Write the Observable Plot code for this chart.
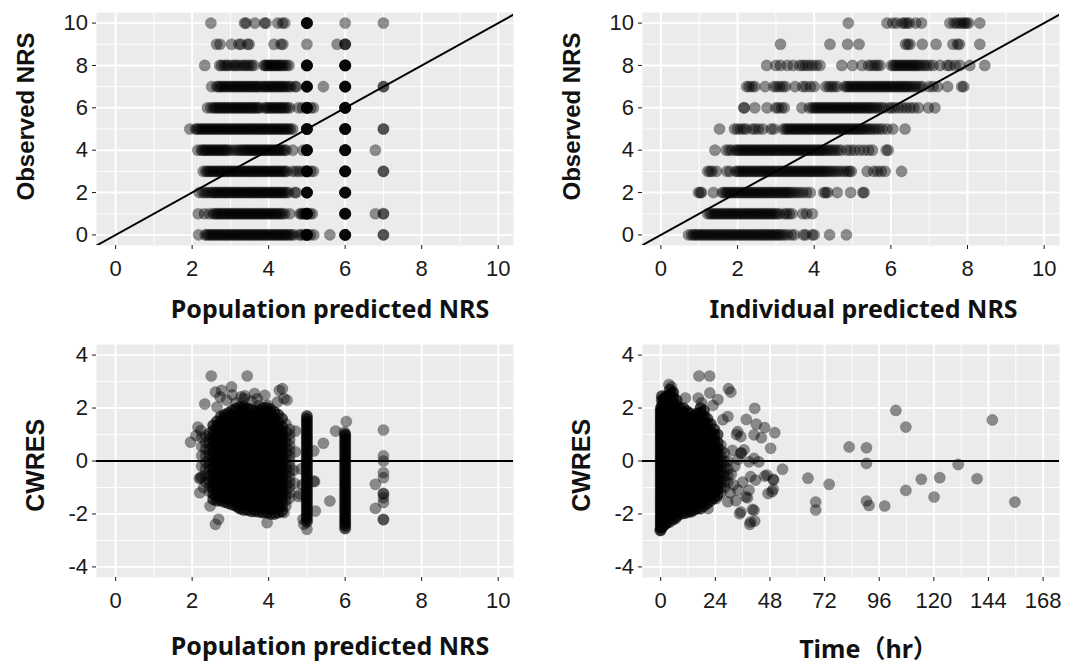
<!DOCTYPE html>
<html><head><meta charset="utf-8">
<script src="https://cdn.jsdelivr.net/npm/d3@7"></script>
<script src="https://cdn.jsdelivr.net/npm/@observablehq/plot@0.6"></script>
<style>
body{margin:0;background:#fff;}
#fig{position:relative;width:1092px;height:668px;overflow:hidden;}
.panel{position:absolute;width:546px;height:334px;}
</style></head><body><div id="fig"></div>
<script>
// ---------- DATA ----------
// Panel A: population predicted NRS, listed by observed NRS (index = observed 0..10)
const popPredByObs = [
"2.17 2.34 2.38 2.43 2.47 2.52 2.56 2.61 2.65 2.7 2.74 2.79 2.83 2.88 2.92 2.97 3.01 3.06 3.1 3.15 3.19 3.24 3.28 3.33 3.37 3.42 3.46 3.51 3.55 3.6 3.64 3.69 3.73 3.78 3.82 3.87 3.91 3.96 4 4.05 4.09 4.14 4.18 4.23 4.27 4.32 4.36 4.41 4.45 4.5 4.55 4.6 4.66 4.8 4.86 4.93 5 5 5 5 5 5 5.09 5.18 5.6 6 6 6 6 6 6 7 7",
"2.16 2.32 2.45 2.55 2.6 2.64 2.69 2.73 2.78 2.82 2.87 2.91 2.96 3 3.05 3.09 3.14 3.18 3.23 3.27 3.32 3.36 3.41 3.45 3.5 3.54 3.59 3.63 3.68 3.72 3.77 3.81 3.86 3.9 3.95 3.99 4.04 4.08 4.13 4.17 4.22 4.26 4.31 4.36 4.42 4.55 4.82 4.86 4.9 4.95 5 5 5 5 5 5 5.08 5.14 6 6 6 6 6 6 6.79 7 7",
"2.19 2.28 2.34 2.4 2.47 2.52 2.57 2.61 2.66 2.7 2.75 2.79 2.84 2.88 2.93 2.97 3.02 3.06 3.11 3.15 3.2 3.24 3.29 3.33 3.38 3.42 3.47 3.51 3.56 3.6 3.65 3.69 3.74 3.78 3.83 3.87 3.92 3.96 4.01 4.05 4.1 4.14 4.19 4.23 4.28 4.32 4.37 4.41 4.46 4.52 4.68 4.72 5 5 5 5 5 5 6 6 6 6 6 6",
"2.29 2.36 2.4 2.45 2.49 2.54 2.58 2.63 2.67 2.72 2.76 2.81 2.85 2.9 2.94 2.99 3.03 3.08 3.12 3.17 3.21 3.26 3.3 3.35 3.39 3.44 3.48 3.53 3.57 3.62 3.66 3.71 3.75 3.8 3.84 3.89 3.93 3.98 4.02 4.07 4.11 4.16 4.2 4.25 4.29 4.34 4.38 4.43 4.48 4.63 4.72 4.8 4.9 5 5 5 5 5 5 5.1 5.17 6 6 6 6 6 6 7 7",
"2.15 2.24 2.28 2.33 2.37 2.42 2.46 2.51 2.55 2.6 2.64 2.69 2.73 2.78 2.82 2.87 2.91 2.97 3.05 3.13 3.2 3.26 3.31 3.36 3.41 3.45 3.5 3.54 3.59 3.63 3.68 3.72 3.77 3.81 3.86 3.9 3.95 3.99 4.04 4.08 4.13 4.17 4.22 4.26 4.31 4.36 4.41 4.46 4.63 4.9 5 5 5 5 5 5 6 6 6 6 6 6 6.79",
"1.94 2.09 2.13 2.18 2.22 2.27 2.31 2.36 2.4 2.45 2.49 2.54 2.58 2.63 2.67 2.72 2.76 2.81 2.85 2.9 2.94 2.99 3.03 3.08 3.12 3.17 3.21 3.26 3.3 3.35 3.39 3.44 3.48 3.53 3.57 3.62 3.66 3.71 3.75 3.8 3.84 3.89 3.93 3.98 4.02 4.07 4.11 4.16 4.2 4.25 4.29 4.34 4.38 4.43 4.47 4.52 4.57 4.63 5 5 5 5 5 5 6 6 6 6 6 6 7 7",
"2.4 2.49 2.55 2.6 2.64 2.69 2.73 2.78 2.82 2.87 2.91 2.96 3.01 3.05 3.1 3.14 3.19 3.23 3.28 3.32 3.37 3.41 3.46 3.5 3.55 3.59 3.64 3.68 3.73 3.78 3.9 3.94 3.99 4.03 4.08 4.12 4.17 4.21 4.26 4.3 4.35 4.39 4.44 4.49 4.55 4.78 4.88 5 5 5 5 5 5 5.1 5.17 6 6 6 6 6 6",
"2.51 2.64 2.68 2.73 2.77 2.82 2.86 2.91 2.95 3 3.05 3.09 3.14 3.18 3.23 3.27 3.32 3.36 3.41 3.45 3.5 3.54 3.59 3.63 3.68 3.72 3.77 3.83 3.88 3.92 3.97 4.01 4.06 4.1 4.15 4.19 4.24 4.28 4.33 4.37 4.42 4.47 4.53 4.58 4.69 4.72 5 5 5 5 5 5 5.43 6 6 6 6 6 6 7 7",
"2.33 2.72 2.77 2.84 2.9 2.95 3.04 3.1 3.16 3.22 3.3 3.36 3.42 3.48 3.55 3.61 3.88 3.91 3.95 3.99 4.03 4.07 4.11 4.15 4.19 4.23 4.27 4.31 4.36 4.41 4.47 4.53 5 5 5 5 5 5 6 6 6 6 6 6",
"2.64 2.73 3.03 3.22 3.28 3.45 3.49 4.14 4.32 4.37 5 5.79 6 6 6",
"2.49 3.37 3.41 3.64 3.89 3.93 4.24 4.36 4.42 5 5 5 5 5 5 6 7"
];

// Panel B: individual predicted NRS, listed by observed NRS (index = observed 0..10)
const indPredByObs = [
"0.72 0.8 0.85 0.9 0.95 1 1.05 1.1 1.15 1.2 1.25 1.3 1.35 1.4 1.45 1.5 1.55 1.6 1.65 1.7 1.75 1.8 1.85 1.9 1.95 2 2.05 2.1 2.15 2.2 2.25 2.3 2.35 2.4 2.45 2.5 2.55 2.6 2.65 2.7 2.75 2.8 2.85 2.9 2.95 3 3.05 3.1 3.16 3.22 3.3 3.4 3.48 3.72 3.78 3.95 4 4.4 4.84",
"1.22 1.28 1.33 1.38 1.43 1.48 1.53 1.58 1.63 1.68 1.73 1.78 1.83 1.88 1.93 1.98 2.03 2.08 2.13 2.18 2.23 2.28 2.33 2.38 2.43 2.48 2.53 2.58 2.63 2.68 2.73 2.78 2.83 2.88 2.93 2.98 3.04 3.1 3.22 3.28 3.35 3.42 3.7 3.8 3.95",
"0.98 1.03 1.06 1.37 1.6 1.65 1.7 1.75 1.8 1.85 1.9 1.95 2 2.05 2.1 2.15 2.2 2.25 2.3 2.35 2.4 2.45 2.5 2.55 2.6 2.65 2.7 2.75 2.8 2.85 2.9 2.95 3 3.05 3.1 3.15 3.2 3.25 3.3 3.35 3.4 3.47 3.54 3.62 3.7 3.8 3.9 4.25 4.3 4.35 4.6 4.95 5.27 5.3",
"1.22 1.28 1.34 1.45 1.72 1.8 1.95 2 2.05 2.1 2.15 2.2 2.25 2.3 2.35 2.4 2.45 2.5 2.55 2.6 2.65 2.7 2.75 2.8 2.85 2.9 2.95 3 3.05 3.1 3.15 3.2 3.25 3.3 3.35 3.4 3.45 3.5 3.55 3.6 3.65 3.7 3.75 3.8 3.85 3.9 3.95 4 4.05 4.1 4.15 4.2 4.25 4.3 4.36 4.42 4.48 4.55 4.62 4.7 4.78 4.86 4.92 4.97 5.38 5.55 5.65 5.75 5.85 6.28",
"1.41 1.7 1.78 1.85 1.95 2 2.05 2.1 2.15 2.2 2.25 2.3 2.35 2.4 2.45 2.5 2.55 2.6 2.65 2.7 2.75 2.8 2.85 2.9 2.95 3 3.05 3.1 3.15 3.2 3.25 3.3 3.35 3.4 3.45 3.5 3.55 3.6 3.65 3.7 3.75 3.8 3.85 3.9 3.95 4 4.05 4.1 4.15 4.2 4.25 4.3 4.36 4.42 4.48 4.55 4.62 4.7 4.85 4.95 5.05 5.18 5.3 5.42 5.52 5.88 5.93",
"1.53 1.92 2 2.08 2.16 2.22 2.38 2.46 2.55 2.66 2.88 2.95 3.19 3.25 3.3 3.35 3.4 3.45 3.5 3.55 3.6 3.65 3.7 3.75 3.8 3.85 3.9 3.95 4 4.05 4.1 4.15 4.2 4.25 4.3 4.35 4.4 4.45 4.5 4.55 4.6 4.65 4.7 4.75 4.8 4.85 4.9 4.95 5 5.05 5.1 5.15 5.2 5.25 5.3 5.36 5.42 5.48 5.55 5.62 5.7 5.78 5.9 6.05 6.37",
"2.16 2.18 2.45 2.77 3 3.06 3.15 3.22 3.68 3.87 3.95 4 4.05 4.1 4.15 4.2 4.25 4.3 4.35 4.4 4.45 4.5 4.55 4.6 4.65 4.7 4.75 4.8 4.85 4.9 4.95 5 5.05 5.1 5.15 5.2 5.25 5.3 5.35 5.4 5.45 5.5 5.56 5.62 5.68 5.75 5.82 5.95 6.02 6.1 6.2 6.3 6.4 6.5 6.6 6.72 6.98 7.15",
"2.24 2.3 2.38 2.45 2.72 2.95 3.02 3.1 3.18 3.25 3.5 3.7 3.78 3.9 4 4.3 4.38 4.45 4.52 4.6 4.8 4.85 4.9 4.95 5 5.05 5.1 5.15 5.2 5.25 5.3 5.35 5.4 5.45 5.5 5.55 5.6 5.65 5.7 5.75 5.8 5.85 5.9 5.95 6 6.05 6.1 6.15 6.2 6.25 6.3 6.35 6.4 6.45 6.5 6.56 6.62 6.68 6.75 6.82 7 7.1 7.22 7.48 7.85 7.9",
"2.76 3 3.12 3.3 3.45 3.62 3.7 3.78 3.86 3.95 4.05 4.15 4.72 5 5.25 5.42 5.5 5.58 5.65 5.72 6.02 6.07 6.12 6.17 6.22 6.27 6.32 6.37 6.42 6.47 6.52 6.57 6.62 6.67 6.72 6.78 6.85 6.92 7 7.1 7.28 7.47 7.54 7.68 7.8 8.06 8.45",
"3.12 4.41 4.87 5.17 6.38 6.44 6.5 6.82 7.18 7.62 7.74 7.79 8.32",
"4.89 5.9 6.05 6.15 6.3 6.36 6.42 6.48 6.65 6.8 7.54 7.65 7.72 7.8 7.86 7.92 7.97 8.03 8.32"
];

// Panel C: CWRES vs population predicted NRS, grouped by predicted value
// [predicted NRS, CWRES values, observations stacked at each listed value]
const cwresPredCols = [
[2.25, "-0.6 -0.2 0.2 0.55 0.9", 1],
[2.35, "-0.8 -0.55 -0.3 -0.05 0.2 0.45 0.7 0.95", 1],
[2.45, "-1.15 -0.95 -0.75 -0.55 -0.35 -0.15 0.05 0.25 0.45 0.65 0.85 1.05", 1],
[2.55, "-1.45 -1.25 -1.05 -0.85 -0.65 -0.45 -0.25 -0.05 0.15 0.35 0.55 0.75 0.95 1.15 1.35", 2],
[2.65, "-1.5 -1.3 -1.1 -0.9 -0.7 -0.5 -0.3 -0.1 0.1 0.3 0.5 0.7 0.9 1.1 1.3 1.5", 2],
[2.75, "-1.5 -1.32 -1.12 -0.92 -0.72 -0.52 -0.32 -0.12 0.08 0.28 0.48 0.68 0.88 1.08 1.28 1.48 1.68", 2],
[2.85, "-1.55 -1.35 -1.15 -0.95 -0.75 -0.55 -0.35 -0.15 0.05 0.25 0.45 0.65 0.85 1.05 1.25 1.45 1.65 1.75", 2],
[2.95, "-1.6 -1.4 -1.2 -1 -0.8 -0.6 -0.4 -0.2 0 0.2 0.4 0.6 0.8 1 1.2 1.4 1.6 1.82", 2],
[3.05, "-1.65 -1.45 -1.25 -1.05 -0.85 -0.65 -0.45 -0.25 -0.05 0.15 0.35 0.55 0.75 0.95 1.15 1.35 1.55 1.75 1.92", 2],
[3.15, "-1.7 -1.5 -1.3 -1.1 -0.9 -0.7 -0.5 -0.3 -0.1 0.1 0.3 0.5 0.7 0.9 1.1 1.3 1.5 1.7 1.98", 2],
[3.25, "-1.8 -1.58 -1.38 -1.18 -0.98 -0.78 -0.58 -0.38 -0.18 0.02 0.22 0.42 0.62 0.82 1.02 1.22 1.42 1.62 1.82 2.04", 2],
[3.35, "-1.85 -1.65 -1.45 -1.25 -1.05 -0.85 -0.65 -0.45 -0.25 -0.05 0.15 0.35 0.55 0.75 0.95 1.15 1.35 1.55 1.75 1.95 2.05", 2],
[3.45, "-1.85 -1.62 -1.42 -1.22 -1.02 -0.82 -0.62 -0.42 -0.22 -0.02 0.18 0.38 0.58 0.78 0.98 1.18 1.38 1.58 1.78 1.98", 2],
[3.55, "-1.9 -1.7 -1.5 -1.3 -1.1 -0.9 -0.7 -0.5 -0.3 -0.1 0.1 0.3 0.5 0.7 0.9 1.1 1.3 1.5 1.7 1.95", 2],
[3.65, "-1.9 -1.68 -1.48 -1.28 -1.08 -0.88 -0.68 -0.48 -0.28 -0.08 0.12 0.32 0.52 0.72 0.92 1.12 1.32 1.52 1.72 1.88", 2],
[3.75, "-1.92 -1.72 -1.52 -1.32 -1.12 -0.92 -0.72 -0.52 -0.32 -0.12 0.08 0.28 0.48 0.68 0.88 1.08 1.28 1.48 1.68 1.92", 2],
[3.85, "-1.95 -1.75 -1.55 -1.35 -1.15 -0.95 -0.75 -0.55 -0.35 -0.15 0.05 0.25 0.45 0.65 0.85 1.05 1.25 1.45 1.65 1.85 2", 2],
[3.95, "-1.95 -1.74 -1.54 -1.34 -1.14 -0.94 -0.74 -0.54 -0.34 -0.14 0.06 0.26 0.46 0.66 0.86 1.06 1.26 1.46 1.66 1.86 2.02", 2],
[4.05, "-2 -1.8 -1.6 -1.4 -1.2 -1 -0.8 -0.6 -0.4 -0.2 0 0.2 0.4 0.6 0.8 1 1.2 1.4 1.6 1.8 1.95", 2],
[4.15, "-2 -1.78 -1.58 -1.38 -1.18 -0.98 -0.78 -0.58 -0.38 -0.18 0.02 0.22 0.42 0.62 0.82 1.02 1.22 1.42 1.62 1.85", 2],
[4.25, "-1.95 -1.75 -1.55 -1.35 -1.15 -0.95 -0.75 -0.55 -0.35 -0.15 0.05 0.25 0.45 0.65 0.85 1.05 1.25 1.45 1.75", 2],
[4.35, "-1.9 -1.7 -1.5 -1.3 -1.1 -0.9 -0.7 -0.5 -0.3 -0.1 0.1 0.3 0.5 0.7 0.9 1.1 1.3 1.6", 2],
[4.45, "-1.7 -1.5 -1.3 -1.1 -0.9 -0.7 -0.5 -0.3 -0.1 0.1 0.3 0.5 0.7 0.9 1.1 1.4", 1],
[4.55, "-1.4 -1.2 -1 -0.8 -0.6 -0.4 -0.2 0 0.2 0.4 0.6 0.8 1 1.2", 1],
[5, "-2.3 -2.2 -2.1 -2 -1.9 -1.8 -1.7 -1.6 -1.5 -1.4 -1.3 -1.2 -1.1 -1 -0.9 -0.8 -0.7 -0.6 -0.5 -0.4 -0.3 -0.2 -0.1 0 0.1 0.2 0.3 0.4 0.5 0.6 0.7 0.8 0.9 1 1.1 1.2 1.3 1.4 1.5 1.6 1.7", 2],
[6, "-2.55 -2.45 -2.35 -2.25 -2.15 -2.05 -1.95 -1.85 -1.75 -1.65 -1.55 -1.45 -1.35 -1.25 -1.15 -1.05 -0.95 -0.85 -0.75 -0.65 -0.55 -0.45 -0.35 -0.25 -0.15 -0.05 0.05 0.15 0.25 0.35 0.45 0.55 0.65 0.75 0.85 0.95 1.02", 2]
];
const cwresPredOthers = "2.5,3.21 3.44,3.21 3.03,2.8 2.61,2.6 2.77,2.67 2.73,2.42 2.33,2.15 2.65,2.04 3.28,2.42 3.36,2.36 3.38,2.46 3.63,2.55 3.9,2.48 4.28,2.67 4.36,2.73 4.4,2.36 4.48,2.3 3.98,2.1 4.23,2.23 3.05,2.5 2.9,2.3 3.15,2.2 3.55,2.25 3.75,2.1 3.7,2.35 2.15,1.28 1.96,0.71 2.1,0.96 2.23,1.15 2.22,-0.63 2.2,-1.2 2.19,-0.66 2.3,-1 2.47,-1.7 2.61,-2.39 2.69,-2.2 3.22,-1.76 3.96,-2.33 4.4,-1.95 4.7,1.13 4.68,-0.85 4.78,-1.34 4.7,0.35 4.65,-0.35 4.85,-0.3 4.88,-0.9 4.82,-1.25 4.9,-2.2 5.43,0.67 5.6,-1.51 5.75,1.13 6.03,1.49 5.98,1.09 6.79,-0.88 6.79,-1.79 4.92,-2.39 5,-2.58 5.18,0.38 5.18,-0.76 5.22,-1.89 5.2,-0.78 7,1.17 7,0.19 7,0 7,-0.44 7,-0.63 7,-1.22 7,-1.25 7,-1.39 7,-1.57 7,-2.2 7,-2.22";

// Panel D: CWRES vs time (hr), grouped by time
// [time, CWRES values, observations stacked at each listed value]
const cwresTimeCols = [
[0, "-2.62 -2.52 -2.42 -2.32 -2.22 -2.12 -2.02 -1.92 -1.82 -1.72 -1.62 -1.52 -1.42 -1.32 -1.22 -1.12 -1.02 -0.92 -0.82 -0.72 -0.62 -0.52 -0.42 -0.32 -0.22 -0.12 -0.02 0.08 0.18 0.28 0.38 0.48 0.58 0.68 0.78 0.88 0.98 1.08 1.18 1.28 1.38 1.48 1.58 1.68 1.78 1.88 1.98", 2],
[0.5, "-2.5 -2.3 -2.1 -1.9 -1.7 -1.5 -1.3 -1.1 -0.9 -0.7 -0.5 -0.3 -0.1 0.1 0.3 0.5 0.7 0.9 1.1 1.3 1.5 1.7 1.9 2.1 2.3 2.45", 2],
[1.2, "-2.45 -2.25 -2.05 -1.85 -1.65 -1.45 -1.25 -1.05 -0.85 -0.65 -0.45 -0.25 -0.05 0.15 0.35 0.55 0.75 0.95 1.15 1.35 1.55 1.75 1.95 2.15 2.35", 2],
[2.5, "-2.35 -2.15 -1.95 -1.75 -1.55 -1.35 -1.15 -0.95 -0.75 -0.55 -0.35 -0.15 0.05 0.25 0.45 0.65 0.85 1.05 1.25 1.45 1.65 1.85 2.05 2.25 2.45", 2],
[4, "-2.3 -2.1 -1.9 -1.7 -1.5 -1.3 -1.1 -0.9 -0.7 -0.5 -0.3 -0.1 0.1 0.3 0.5 0.7 0.9 1.1 1.3 1.5 1.7 1.9 2.1 2.3 2.5 2.7", 2],
[5.5, "-2.2 -2 -1.8 -1.6 -1.4 -1.2 -1 -0.8 -0.6 -0.4 -0.2 0 0.2 0.4 0.6 0.8 1 1.2 1.4 1.6 1.8 2 2.2 2.4 2.6", 2],
[7, "-2.1 -1.9 -1.7 -1.5 -1.3 -1.1 -0.9 -0.7 -0.5 -0.3 -0.1 0.1 0.3 0.5 0.7 0.9 1.1 1.3 1.5 1.7 1.9 2.1 2.3", 2],
[8.5, "-2 -1.8 -1.6 -1.4 -1.2 -1 -0.8 -0.6 -0.4 -0.2 0 0.2 0.4 0.6 0.8 1 1.2 1.4 1.6 1.8 2", 2],
[10, "-1.98 -1.78 -1.58 -1.38 -1.18 -0.98 -0.78 -0.58 -0.38 -0.18 0.02 0.22 0.42 0.62 0.82 1.02 1.22 1.42 1.62 1.82 2", 2],
[11.5, "-1.95 -1.75 -1.55 -1.35 -1.15 -0.95 -0.75 -0.55 -0.35 -0.15 0.05 0.25 0.45 0.65 0.85 1.05 1.25 1.45 1.65 1.88", 2],
[13, "-1.9 -1.7 -1.5 -1.3 -1.1 -0.9 -0.7 -0.5 -0.3 -0.1 0.1 0.3 0.5 0.7 0.9 1.1 1.3 1.5 1.8", 2],
[14.5, "-1.85 -1.65 -1.45 -1.25 -1.05 -0.85 -0.65 -0.45 -0.25 -0.05 0.15 0.35 0.55 0.75 0.95 1.15 1.35 1.55 1.7", 2],
[16, "-1.8 -1.6 -1.4 -1.2 -1 -0.8 -0.6 -0.4 -0.2 0 0.2 0.4 0.6 0.8 1 1.2 1.4 1.6 1.8", 2],
[17.5, "-1.8 -1.58 -1.38 -1.18 -0.98 -0.78 -0.58 -0.38 -0.18 0.02 0.22 0.42 0.62 0.82 1.02 1.22 1.42 1.62 1.82 2", 2],
[19, "-1.7 -1.5 -1.3 -1.1 -0.9 -0.7 -0.5 -0.3 -0.1 0.1 0.3 0.5 0.7 0.9 1.1 1.3 1.5 1.7 1.9", 2],
[20.5, "-1.6 -1.4 -1.2 -1 -0.8 -0.6 -0.4 -0.2 0 0.2 0.4 0.6 0.8 1 1.2 1.4 1.6", 2],
[22, "-1.5 -1.3 -1.1 -0.9 -0.7 -0.5 -0.3 -0.1 0.1 0.3 0.5 0.7 0.9 1.1 1.4", 2],
[23.5, "-1.4 -1.2 -1 -0.8 -0.6 -0.4 -0.2 0 0.2 0.4 0.6 0.8 1 1.2", 2],
[25, "-1.3 -1.1 -0.9 -0.7 -0.5 -0.3 -0.1 0.1 0.3 0.5 0.7 1", 2],
[26.5, "-1.2 -1 -0.8 -0.6 -0.4 -0.2 0 0.2 0.4 0.6", 1],
[28, "-1 -0.8 -0.6 -0.4 -0.2 0 0.3", 1],
[29.5, "-0.8 -0.55 -0.3 0", 1]
];
const cwresTimeOthers = "16.8,3.21 21.5,3.21 29.8,2.73 30.8,2.6 4.7,2.8 3.6,2.89 5,2.57 10.8,2.38 16.5,2.38 18,2.2 21.6,2.57 25.1,2.32 23,2.1 41.3,1.99 37.6,1.57 42,1.39 45.7,1.26 44.2,0.88 50.1,1.07 48.3,0.48 41,0.99 33.8,1.11 35.2,0.92 29.5,1.68 27.3,1.56 35.2,0.29 36.6,0.42 38.8,-0.03 41,0.1 43.1,-0.03 34,0.06 35.4,0.31 33.3,1 53.5,-0.31 39.5,-0.59 41.7,-0.72 45.7,-0.57 46.7,-0.53 49.4,-0.69 49.6,-0.72 49.4,-1.07 48.9,-1.16 47.2,-1.23 38.8,-1.1 37.4,-1.35 38.1,-1.39 35.2,-1.92 34.7,-1.99 40.3,-1.83 41,-1.86 39.1,-2.39 41.3,-2.27 39.5,-2.3 20.8,-1.8 24.4,-1.42 29.5,-1.54 13.6,-1.92 6.5,-2.18 2.2,-2.37 -0.3,-2.62 31,-0.5 32,-0.9 30.5,-1.2 33,-1.5 31.5,0.4 32.5,-0.2 36,-0.8 34,-1.1 103.3,1.91 107.7,1.28 145.7,1.55 82.8,0.53 90.4,0.5 90.4,-0.09 130.7,-0.13 139,-0.67 122.6,-0.63 114.5,-0.69 64.7,-0.65 74,-0.88 68.1,-1.55 68.1,-1.85 90.4,-1.51 91.5,-1.68 98.4,-1.7 107.7,-1.11 120.1,-1.36 155.6,-1.55";

// axis ticks
const nrsTicks = [0, 2, 4, 6, 8, 10];
const nrsMinor = [1, 3, 5, 7, 9];
const cwresTicks = [-4, -2, 0, 2, 4];
const cwresMinor = [-3, -1, 1, 3];
const timeTicks = [0, 24, 48, 72, 96, 120, 144, 168];
const timeMinor = [12, 36, 60, 84, 108, 132, 156];

// ---------- BUILD ----------
const nums = s => s.trim().split(/\s+/).map(Number);
const pairs = s => s.trim().split(/\s+/).map(p => { const [a, b] = p.split(",").map(Number); return {x: a, y: b}; });
const byRow = rows => rows.flatMap((s, obs) => nums(s).map(x => ({x, y: obs})));
const byCol = cols => cols.flatMap(([x, s, n]) => nums(s).flatMap(y => Array.from({length: n}, () => ({x, y}))));

const dataA = byRow(popPredByObs);
const dataB = byRow(indPredByObs);
const dataC = byCol(cwresPredCols).concat(pairs(cwresPredOthers));
const dataD = byCol(cwresTimeCols).concat(pairs(cwresTimeOthers));
const identity = [{x: -0.5, y: -0.5}, {x: 10.4, y: 10.4}];

const TICK_FONT = "'Liberation Sans', Arial, sans-serif";
const XT_FONT = "'Noto Sans', 'Noto Sans CJK JP', sans-serif";

function makePanel(o) {
  const top = o.top;
  const mt = top ? 12 : 10, mb = top ? 89 : 91;
  const marks = [
    Plot.frame({fill: "#EBEBEB", stroke: "none"}),
    Plot.gridX(o.xMinor, {stroke: "white", strokeOpacity: 1, strokeWidth: 0.9}),
    Plot.gridY(o.yMinor, {stroke: "white", strokeOpacity: 1, strokeWidth: 0.9}),
    Plot.gridX(o.xTicks, {stroke: "white", strokeOpacity: 1, strokeWidth: 1.9}),
    Plot.gridY(o.yTicks, {stroke: "white", strokeOpacity: 1, strokeWidth: 1.9}),
    Plot.dot(o.data, {x: "x", y: "y", r: 5.6, fill: "black", fillOpacity: 0.42, stroke: "black", strokeOpacity: 0.22, strokeWidth: 0.7, clip: true}),
    o.ref === "identity"
      ? Plot.line(identity, {x: "x", y: "y", stroke: "black", strokeWidth: 2, clip: true})
      : Plot.ruleY([0], {stroke: "black", strokeWidth: 2}),
    Plot.axisX({ticks: o.xTicks, tickSize: 4, tickPadding: 10.5, tickFormat: d => String(d), label: null, fontSize: 22, fontFamily: TICK_FONT}),
    Plot.axisY({ticks: o.yTicks, tickSize: 4, tickPadding: 4.5, tickFormat: d => String(d), label: null, fontSize: 22, fontFamily: TICK_FONT}),
    Plot.text([o.xTitle], {text: d => d, frameAnchor: "bottom", textAnchor: "middle", lineAnchor: "middle", dx: o.xdx, dy: o.xdy, fontSize: 25, fontWeight: "bold", fontFamily: XT_FONT, fill: "#111"}),
    Plot.text([o.yTitle], {text: d => d, frameAnchor: "left", textAnchor: "middle", lineAnchor: "middle", rotate: -90, dx: o.ydx, dy: o.ydy, fontSize: o.ySize, fontWeight: "bold", fontFamily: TICK_FONT, fill: "#111"})
  ];
  const chart = Plot.plot({
    width: 546, height: 334,
    marginLeft: 96, marginRight: 33, marginTop: mt, marginBottom: mb,
    x: {domain: o.xDomain},
    y: {domain: o.yDomain},
    style: {background: "white", color: "#1a1a1a", fontFamily: TICK_FONT, fontSize: "22px"},
    marks
  });
  const wrap = document.createElement("div");
  wrap.className = "panel";
  wrap.style.left = o.left + "px";
  wrap.style.top = (top ? 0 : 334) + "px";
  wrap.appendChild(chart);
  document.getElementById("fig").appendChild(wrap);
}

makePanel({top: true, left: 0, data: dataA, ref: "identity",
  xDomain: [-0.5, 10.4], yDomain: [-0.5, 10.5],
  xTicks: nrsTicks, xMinor: nrsMinor, yTicks: nrsTicks, yMinor: nrsMinor,
  xTitle: "Population predicted NRS", xdx: 25, xdy: 64,
  yTitle: "Observed NRS", ySize: 24, ydx: -70.4, ydy: -12.5});

makePanel({top: true, left: 546, data: dataB, ref: "identity",
  xDomain: [-0.48, 10.4], yDomain: [-0.5, 10.5],
  xTicks: nrsTicks, xMinor: nrsMinor, yTicks: nrsTicks, yMinor: nrsMinor,
  xTitle: "Individual predicted NRS", xdx: 12.5, xdy: 64,
  yTitle: "Observed NRS", ySize: 24, ydx: -70.4, ydy: -12.5});

makePanel({top: false, left: 0, data: dataC, ref: "zero",
  xDomain: [-0.5, 10.4], yDomain: [-4.4, 4.4],
  xTicks: nrsTicks, xMinor: nrsMinor, yTicks: cwresTicks, yMinor: cwresMinor,
  xTitle: "Population predicted NRS", xdx: 25, xdy: 69,
  yTitle: "CWRES", ySize: 25, ydx: -60.5, ydy: 4.3});

makePanel({top: false, left: 546, data: dataD, ref: "zero",
  xDomain: [-8, 175.2], yDomain: [-4.4, 4.4],
  xTicks: timeTicks, xMinor: timeMinor, yTicks: cwresTicks, yMinor: cwresMinor,
  xTitle: "Time（hr）", xdx: 17.5, xdy: 72,
  yTitle: "CWRES", ySize: 25, ydx: -60.5, ydy: 4.3});
</script>
</body></html>
